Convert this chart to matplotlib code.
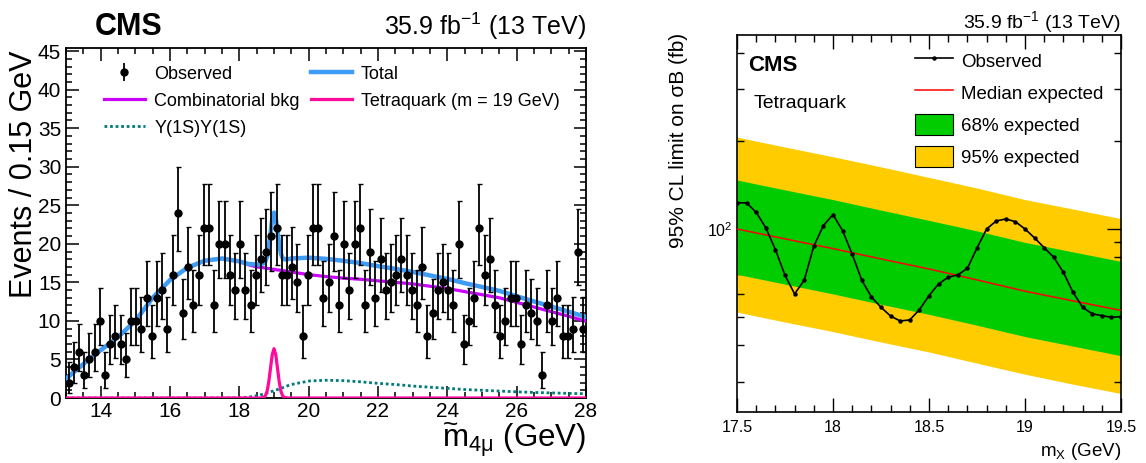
import numpy as np
import matplotlib
matplotlib.use("Agg")
import matplotlib.pyplot as plt
from matplotlib.ticker import MultipleLocator, FixedLocator, NullFormatter, FixedFormatter
from matplotlib.lines import Line2D
from matplotlib.patches import Patch

plt.rcParams["font.family"] = ["Liberation Sans", "DejaVu Sans"]
plt.rcParams["mathtext.fontset"] = "custom"
plt.rcParams["mathtext.rm"] = "Liberation Sans"
plt.rcParams["mathtext.it"] = "Liberation Sans:italic"
plt.rcParams["mathtext.bf"] = "Liberation Sans:bold"

# ---- left panel: 4-muon mass spectrum ----
bin_lo, bin_width = 13.0, 0.15
counts = [2, 4, 6, 3, 5, 6, 10, 3, 7, 8, 7, 5, 10, 10, 9, 13, 8, 13, 14, 9, 16, 24, 11, 17, 12,
          16, 22, 22, 12, 20, 20, 16, 14, 20, 14, 12, 16, 18, 19, 21, 22, 16, 16, 17, 15, 8, 16, 22, 22, 13,
          15, 21, 12, 20, 14, 20, 22, 12, 19, 13, 18, 14, 15, 16, 18, 16, 14, 12, 17, 8, 11, 14, 15, 14, 12,
          20, 7, 10, 13, 22, 16, 18, 12, 8, 10, 13, 13, 7, 12, 11, 10, 3, 12, 10, 13, 8, 8, 9, 19, 9]

curve_m = [13.0, 13.5, 14.0, 14.5, 15.0, 15.5, 16.0, 16.5, 17.0, 17.5, 18.0, 18.25, 18.5, 18.6, 18.7,
           18.75, 18.8, 18.85, 18.9, 18.95, 19.0, 19.05, 19.1, 19.15, 19.2, 19.25, 19.3, 19.4, 19.5,
           20.0, 20.5, 21.0, 21.5, 22.0, 22.5, 23.0, 23.5, 24.0, 24.5, 25.0, 25.5, 26.0, 26.5, 27.0,
           27.5, 28.0]
comb_bkg = [2.5, 4.4, 6.2, 7.9, 10.0, 13.0, 15.3, 16.9, 17.8, 18.1, 17.7, 17.3, 17.0, 16.95, 16.9,
            16.85, 16.8, 16.8, 16.75, 16.7, 16.7, 16.65, 16.6, 16.6, 16.55, 16.52, 16.5, 16.4, 16.35,
            16.0, 15.75, 15.55, 15.4, 15.2, 15.0, 14.8, 14.5, 14.2, 13.8, 13.4, 13.0, 12.4, 11.8, 11.2,
            10.6, 9.95]
upsilon = [0, 0, 0, 0, 0, 0, 0, 0, 0, 0, 0.02, 0.1, 0.3, 0.4, 0.5,
           0.58, 0.65, 0.72, 0.8, 0.88, 0.95, 1.03, 1.1, 1.18, 1.26, 1.34, 1.42, 1.6, 1.75,
           2.2, 2.3, 2.25, 2.1, 1.9, 1.75, 1.55, 1.4, 1.25, 1.1, 1.0, 0.9, 0.8, 0.72, 0.66,
           0.6, 0.55]
tetraquark = [0, 0, 0, 0, 0, 0, 0, 0, 0, 0, 0, 0, 0, 0.0, 0.07,
              0.28, 0.87, 2.1, 3.9, 5.65, 6.4, 5.65, 3.9, 2.1, 0.87, 0.28, 0.07, 0.0, 0,
              0, 0, 0, 0, 0, 0, 0, 0, 0, 0, 0, 0, 0, 0, 0,
              0, 0]

# ---- right panel: limit scan ----
mx_obs = np.round(np.arange(17.5, 19.5001, 0.05), 2)
obs_limit = [123, 122.7, 114, 101, 85, 69.5, 60, 66.8, 87.3, 102.7, 112, 98.7, 82, 66.8, 58.6,
             54, 50.4, 48.5, 48.9, 53, 59.2, 64.9, 68.4, 69.7, 73.4, 86.1, 100, 106.5, 108.2, 105.9,
             100, 93.2, 86.3, 80, 71.1, 60.8, 54, 51.3, 50.6, 49.9, 50.2]
mx_exp = [17.5, 17.75, 18.0, 18.25, 18.5, 18.75, 19.0, 19.25, 19.5]
exp_median = [100, 92.5, 85.7, 79, 73, 67, 61.3, 56.8, 52.7]
exp_up68 = [147, 136, 126, 116, 107, 98.5, 90, 83.5, 77.5]
exp_dn68 = [70, 64.8, 60, 55.3, 51.1, 46.9, 42.9, 39.8, 36.9]
exp_up95 = [206, 190.5, 176.5, 163, 150, 138, 126, 117, 108.5]
exp_dn95 = [52, 48.1, 44.6, 41.1, 38, 34.8, 31.9, 29.5, 27.4]

W, H = 1146, 463
fig = plt.figure(figsize=(W / 100, H / 100), dpi=100)

# ================= left =================
ax = fig.add_axes([66 / W, 1 - 398 / H, 520 / W, 350 / H])
centers = bin_lo + bin_width * (np.arange(len(counts)) + 0.5)
n = np.array(counts, dtype=float)
err_lo = np.sqrt(n)
err_hi = np.sqrt(n + 1) + 1

total = np.array(comb_bkg) + np.array(upsilon) + np.array(tetraquark)
ax.plot(curve_m, upsilon, color="#007a7a", lw=2.0, ls=(0, (1, 1)), zorder=2)
ax.plot(curve_m, comb_bkg, color="#cc00ff", lw=2.3, zorder=3)
ax.plot(curve_m, total, color="#3d9cf5", lw=3.2, zorder=4)
ax.plot(curve_m, tetraquark, color="#ff0a9a", lw=2.3, zorder=5)
ax.errorbar(centers, n, yerr=[err_lo, err_hi], fmt="o", color="black", ms=5,
            elinewidth=1.3, capsize=1.8, capthick=1.0, zorder=6)

ax.set_xlim(13, 28)
ax.set_ylim(0, 45.4)
ax.xaxis.set_major_locator(MultipleLocator(2))
ax.xaxis.set_minor_locator(MultipleLocator(0.5))
ax.yaxis.set_major_locator(MultipleLocator(5))
ax.yaxis.set_minor_locator(MultipleLocator(1))
ax.tick_params(which="both", direction="in", top=True, right=True, labelsize=15, width=1.1)
ax.tick_params(which="major", length=9)
ax.tick_params(which="minor", length=4.5)
ax.tick_params(axis="x", pad=3)
for s in ax.spines.values():
    s.set_linewidth(1.3)

handles = [
    ax.errorbar([], [], yerr=[], fmt="o", color="black", ms=5, elinewidth=1.3),
    Line2D([], [], color="#cc00ff", lw=2.3),
    Line2D([], [], color="#007a7a", lw=2.0, ls=(0, (1, 1))),
    Line2D([], [], color="#3d9cf5", lw=3.2),
    Line2D([], [], color="#ff0a9a", lw=2.3),
]
labels = ["Observed", "Combinatorial bkg", "\u03a5(1S)\u03a5(1S)", "Total", "Tetraquark (m = 19 GeV)"]
ax.legend(handles, labels, ncol=2, loc="upper left", bbox_to_anchor=(0.055, 0.975),
          frameon=False, fontsize=13, borderpad=0, handlelength=2.3, handletextpad=0.5,
          labelspacing=0.55, columnspacing=0.6)

fig.text(95 / W, 1 - 35 / H, "CMS", fontsize=22, fontweight="bold", va="baseline")
fig.text(586 / W, 1 - 35 / H, "35.9 fb$^{-1}$ (13 TeV)", fontsize=18, ha="right", va="baseline")
fig.text(24 / W, 1 - 50 / H, "Events / 0.15 GeV", fontsize=22, rotation=90, ha="center", va="top")
# x title: m with a tilde on top, drawn as two pieces
fig.text(586 / W, 1 - 447 / H, "m$_{\\mathrm{4\u03bc}}$ (GeV)", fontsize=22.5, ha="right", va="baseline")
fig.text(451 / W, 1 - 432 / H, "~", fontsize=19, ha="center", va="baseline")

# ================= right =================
bx = fig.add_axes([737 / W, 1 - 412 / H, 384 / W, 377 / H])
bx.set_yscale("log")
bx.fill_between(mx_exp, exp_dn95, exp_up95, color="#ffcc00", lw=0, zorder=1)
bx.fill_between(mx_exp, exp_dn68, exp_up68, color="#00cc00", lw=0, zorder=2)
bx.plot(mx_exp, exp_median, color="#ff0000", lw=1.1, zorder=3)
bx.plot(mx_obs, obs_limit, color="black", lw=1.2, marker="o", ms=2.2, zorder=4)

bx.set_xlim(17.5, 19.5)
bx.set_ylim(23.7, 460)
bx.yaxis.set_major_locator(FixedLocator([100]))
bx.yaxis.set_major_formatter(FixedFormatter(["10$^{2}$"]))
bx.yaxis.set_minor_locator(FixedLocator([30, 40, 50, 60, 70, 80, 90, 200, 300, 400]))
bx.yaxis.set_minor_formatter(NullFormatter())
bx.set_xticks([17.5, 18, 18.5, 19, 19.5])
bx.set_xticklabels(["17.5", "18", "18.5", "19", "19.5"])
bx.xaxis.set_minor_locator(MultipleLocator(0.1))
bx.tick_params(which="both", direction="in", top=True, right=True, labelsize=11.5, width=1.0)
bx.tick_params(which="major", length=10)
bx.tick_params(which="minor", length=5)
bx.tick_params(axis="x", pad=6)
for s in bx.spines.values():
    s.set_linewidth(1.2)

bx.text(0.03, 0.918, "CMS", transform=bx.transAxes, fontsize=16, fontweight="bold", va="center")
bx.text(0.043, 0.817, "Tetraquark", transform=bx.transAxes, fontsize=14, va="center")

rh = [
    Line2D([], [], color="black", lw=1.2, marker="o", ms=2.2),
    Line2D([], [], color="#ff0000", lw=1.1),
    Patch(facecolor="#00cc00", edgecolor="black", lw=0.8),
    Patch(facecolor="#ffcc00", edgecolor="black", lw=0.8),
]
rl = ["Observed", "Median expected", "68% expected", "95% expected"]
bx.legend(rh, rl, loc="upper left", bbox_to_anchor=(0.44, 0.985), frameon=False, fontsize=13.5,
          borderpad=0, handlelength=2.0, handleheight=1.3, handletextpad=0.45, labelspacing=0.62)

fig.text(1121 / W, 1 - 28 / H, "35.9 fb$^{-1}$ (13 TeV)", fontsize=14, ha="right", va="baseline")
fig.text(678 / W, 1 - 33 / H, "95% CL limit on \u03c3B (fb)", fontsize=15, rotation=90,
         ha="center", va="top")
fig.text(1121 / W, 1 - 452 / H, "m$_{\\mathrm{X}}$ (GeV)", fontsize=13.5, ha="right", va="center")

fig.savefig("out.png", dpi=100)
